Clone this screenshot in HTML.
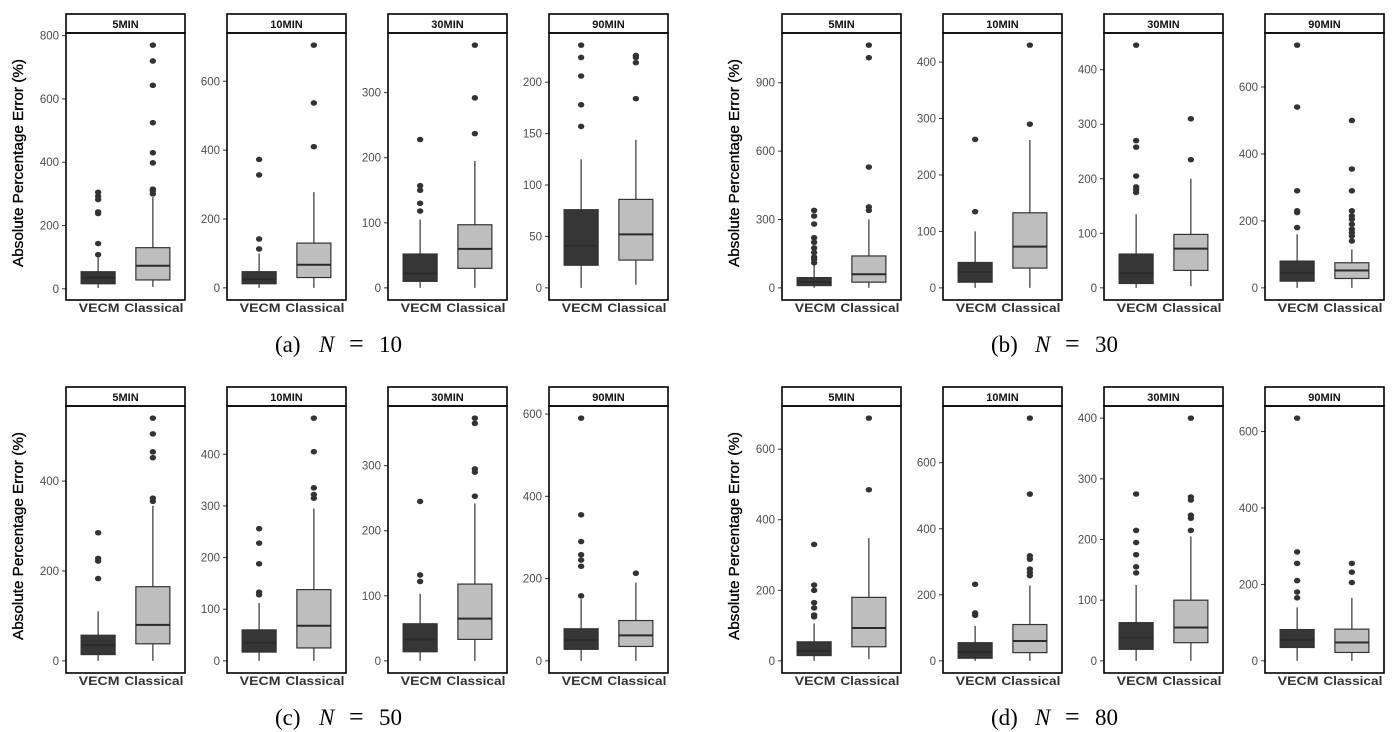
<!DOCTYPE html>
<html><head><meta charset="utf-8">
<style>
html,body{margin:0;padding:0;background:#fff;}
svg{display:block;}
</style></head>
<body>
<svg id="fig" width="1392" height="732" xmlns="http://www.w3.org/2000/svg">
</svg>
<script>
const intervals = ["5MIN","10MIN","30MIN","90MIN"];
const captions = ["10","30","50","80"];
const captionLetters = ["a","b","c","d"];
// [lower whisker, q1, median, q3, upper whisker], 16 panels: a1..a4, b1..b4, c1..c4, d1..d4
const vecmStats = [
 [3,16,35,54,101],[0,12,25,47,100],[0,10,22,52,105],[0,22,41,76,125],
 [0,10,25,45,100],[0,10,28,45,100],[0,8,27,62,135],[0,20,45,80,160],
 [0,14,35,57,110],[0,17,35,60,112],[0,14,33,57,103],[0,28,50,78,150],
 [0,15,28,54,106],[0,8,27,55,106],[0,19,38,63,125],[0,35,55,82,140]
];
const classicalStats = [
 [6,28,73,130,290],[0,30,67,130,278],[0,30,60,97,195],[3,27,52,86,144],
 [0,25,60,140,300],[0,35,73,133,262],[3,32,72,98,200],[0,28,52,75,115],
 [0,38,80,165,345],[0,25,68,138,295],[0,33,65,118,242],[0,35,62,98,190],
 [5,40,93,180,348],[0,25,60,110,228],[0,30,55,100,205],[0,22,48,83,165]
];
const vecmOutliers = [
 [108,143,238,243,282,292,305],[113,142,328,373],[118,130,150,157,228],[157,178,206,224,236],
 [110,125,135,155,175,200,220,280,315,340],[135,263],[175,180,185,205,258,270,445],[180,225,230,290,540,725],
 [183,222,228,285],[128,133,188,228,256],[122,132,245],[158,230,245,258,290,355,590],
 [125,130,150,165,200,215,330],[138,145,232],[145,155,175,195,215,275],[165,180,210,255,285,635]
];
const classicalOutliers = [
 [300,310,315,398,430,525,643,720,770],[410,537,705],[237,292,373],[184,219,224,226],
 [340,355,530,1010,1065],[290,430],[235,310],[140,155,165,175,190,205,215,230,290,355,500],
 [355,362,452,465,505,540],[315,322,335,405,470],[253,290,295,365,373],[213],
 [485,688],[258,268,278,308,318,505,735],[215,235,240,265,270,400],[205,232,255]
];
const tickSets = [
 [0,200,400,600,800],[0,200,400,600],[0,100,200,300],[0,50,100,150,200],
 [0,300,600,900],[0,100,200,300,400],[0,100,200,300,400],[0,200,400,600],
 [0,200,400],[0,100,200,300,400],[0,100,200,300],[0,200,400,600],
 [0,200,400,600],[0,200,400,600],[0,100,200,300,400],[0,200,400,600]
];

const NS = "http://www.w3.org/2000/svg";
const svg = document.getElementById("fig");
function mk(tag, attrs, parent){
  const e = document.createElementNS(NS, tag);
  for (const k in attrs) e.setAttribute(k, attrs[k]);
  (parent||svg).appendChild(e);
  return e;
}
const groupOffX = [0,716,0,716];
const groupOffY = [0,0,373,373];
const panelX = [66,227,388,549];
const PW = 119, STRIP_TOP = 14, PLOT_TOP = 33, PLOT_BOT = 300;

for (let g=0; g<4; g++){
  const gx = groupOffX[g], gy = groupOffY[g];
  const grp = mk("g", {});
  
  
  const yt = mk("text", {x:0,y:0,"font-family":"Liberation Sans, sans-serif","font-size":"14.5","fill":"#000","stroke":"#000","stroke-width":"0.3",
    "text-anchor":"middle","transform":`translate(${gx+23},${gy+163}) rotate(-90)`,"textLength":"208","lengthAdjust":"spacingAndGlyphs"}, grp);
  yt.textContent = "Absolute Percentage Error (%)";
  
  
  const cap = mk("text", {x:gx+275,y:gy+352,"font-family":"Liberation Serif, serif","font-size":"23","fill":"#000"}, grp);
  cap.innerHTML = `<tspan x="${gx+275}">(${captionLetters[g]})</tspan><tspan x="${gx+319}" font-style="italic">N</tspan><tspan x="${gx+349}" font-size="26">=</tspan><tspan x="${gx+379}">${captions[g]}</tspan>`;
  
  

  for (let p=0; p<4; p++){
    const idx = g*4+p;
    const x0 = gx+panelX[p], top = gy+PLOT_TOP, bot = gy+PLOT_BOT;
    const all = vecmStats[idx].concat(classicalStats[idx], vecmOutliers[idx], classicalOutliers[idx]);
    const dmin = Math.min(...all), dmax = Math.max(...all);
    const span = dmax-dmin;
    const lo = dmin-0.05*span, hi = dmax+0.05*span;
    const yS = v => bot - (v-lo)/(hi-lo)*(bot-top);
    const pg = mk("g", {}, grp);
    
    
    const strip = mk("rect", {x:x0,y:gy+STRIP_TOP,width:PW,height:PLOT_TOP-STRIP_TOP,fill:"#fff",stroke:"#000","stroke-width":"1.6"}, pg);
    
    
    const st = mk("text", {x:x0+PW/2,y:gy+STRIP_TOP+14,"font-family":"Liberation Sans, sans-serif","font-size":"11","font-weight":"bold","fill":"#111","text-anchor":"middle"}, pg);
    st.textContent = intervals[p];
    
    
    tickSets[idx].forEach(t=>{
      const y = yS(t);
      const tk = mk("line", {x1:x0-4,x2:x0,y1:y,y2:y,stroke:"#333","stroke-width":"1"}, pg);
      
      
      const tl = mk("text", {x:x0-7,y:y+4,"font-family":"Liberation Sans, sans-serif","font-size":"11.5","fill":"#4d4d4d","text-anchor":"end"}, pg);
      tl.textContent = t;
      
      
    });
    const series = [
      {name:"VECM", st:vecmStats[idx], out:vecmOutliers[idx], fill:"#363636", cx:x0+PW*0.27, lw:41},
      {name:"Classical", st:classicalStats[idx], out:classicalOutliers[idx], fill:"#bebebe", cx:x0+PW*0.73, lw:59}
    ];
    series.forEach(s=>{
      const bw = 34;
      const [wl,q1,md,q3,wh] = s.st;
      const wk = mk("line", {x1:s.cx,x2:s.cx,y1:yS(wl),y2:yS(wh),stroke:"#333","stroke-width":"1.2"}, pg);
      
      
      const bx = mk("rect", {x:s.cx-bw/2,y:yS(q3),width:bw,height:yS(q1)-yS(q3),fill:s.fill,stroke:"#333","stroke-width":"1.2"}, pg);
      
      
      const ml = mk("line", {x1:s.cx-bw/2,x2:s.cx+bw/2,y1:yS(md),y2:yS(md),stroke:"#2a2a2a","stroke-width":"2"}, pg);
      
      
      s.out.forEach(v=>{
        const d = mk("ellipse", {cx:s.cx,cy:yS(v),rx:3.2,ry:2.8,fill:"#333"}, pg);
        
        
      });
      const xl = mk("text", {x:s.cx+1,y:bot+12,"font-family":"Liberation Sans, sans-serif","font-size":"12","font-weight":"bold","fill":"#333","text-anchor":"middle","textLength":s.lw,"lengthAdjust":"spacingAndGlyphs"}, pg);
      xl.textContent = s.name;
      
      
    });
    const frame = mk("rect", {x:x0,y:top,width:PW,height:bot-top,fill:"none",stroke:"#000","stroke-width":"1.6"}, pg);
    
    
  }
}
</script>
</body></html>
